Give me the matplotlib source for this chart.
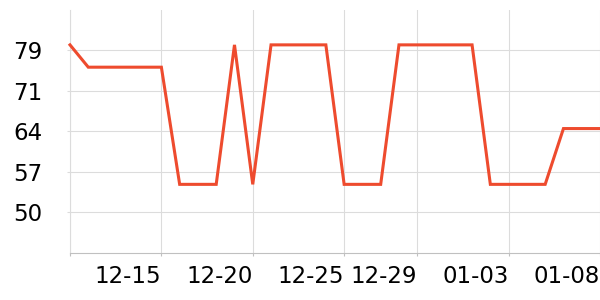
import matplotlib
matplotlib.use("Agg")
import matplotlib.pyplot as plt

dates = ["12-10", "12-11", "12-12", "12-13", "12-14", "12-15", "12-16", "12-17",
         "12-18", "12-19", "12-20", "12-21", "12-22", "12-23", "12-24", "12-25",
         "12-26", "12-27", "12-28", "12-29", "12-30", "12-31", "01-01", "01-02",
         "01-03", "01-04", "01-05", "01-06", "01-07", "01-08"]
values = [80, 76, 76, 76, 76, 76, 55, 55, 55, 80, 55, 80, 80, 80, 80, 55,
          55, 55, 80, 80, 80, 80, 80, 55, 55, 55, 55, 65, 65, 65]
x_ticks = ["12-10", "12-15", "12-20", "12-25", "12-29", "01-03", "01-08"]
x_tick_labels = ["", "12-15", "12-20", "12-25", "12-29", "01-03", "01-08"]
y_ticks = [50, 57.25, 64.5, 71.75, 79]
y_tick_labels = ["50", "57", "64", "71", "79"]

line_color = "#ee4b2e"
grid_color = "#dcdcdc"
axis_color = "#c0c0c0"

fig = plt.figure(figsize=(6, 3), dpi=100)
ax = fig.add_axes([70/600, (300-252.7)/300, 530/600, (252.7-10)/300])

ax.plot(dates, values, color=line_color, linewidth=2.2, clip_on=False,
        solid_joinstyle="miter", zorder=3)

ax.set_xlim(0, len(dates) - 1)
ax.set_ylim(42.75, 86.25)

ax.set_xticks(x_ticks)
ax.set_xticklabels(x_tick_labels, ha="right")
ax.set_yticks(y_ticks)
ax.set_yticklabels(y_tick_labels)

ax.grid(True, color=grid_color, linewidth=0.8)
ax.set_axisbelow(True)

for s in ["top", "right"]:
    ax.spines[s].set_visible(False)
ax.spines["left"].set_color(grid_color)
ax.spines["left"].set_linewidth(0.8)
ax.spines["bottom"].set_color(axis_color)
ax.spines["bottom"].set_linewidth(0.8)

ax.tick_params(axis="x", length=2.5, width=0.8, color=axis_color,
               labelsize=16.5, pad=6, labelcolor="black")
ax.tick_params(axis="y", length=2, width=0.8, color=grid_color,
               labelsize=16.5, pad=18, labelcolor="black")

fig.savefig("out.png", dpi=100)
